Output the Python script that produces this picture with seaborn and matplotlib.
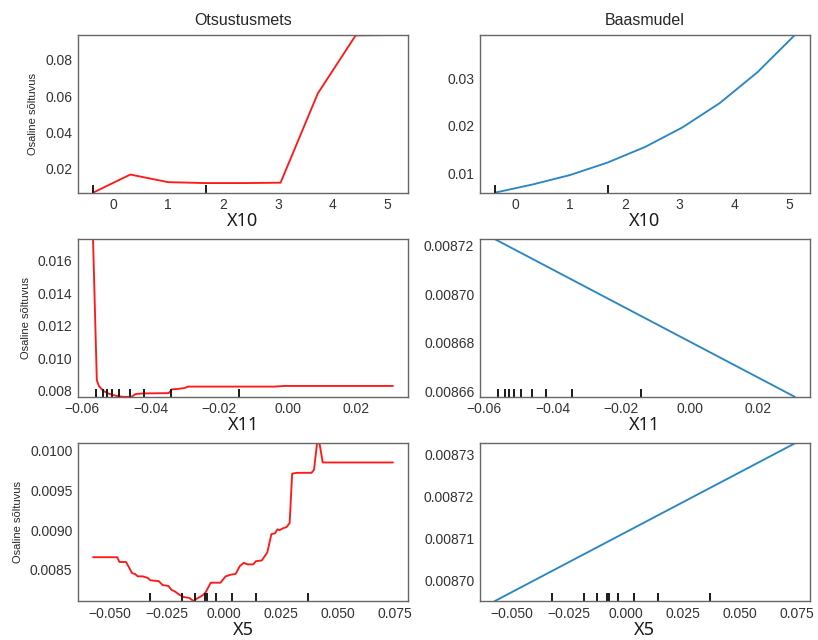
import matplotlib
matplotlib.use("Agg")
import matplotlib.pyplot as plt
import matplotlib.transforms as mtransforms
import pandas as pd
import seaborn as sns

# Partial dependence of the two models on features X10, X11 and X5
x10_grid = [-0.37, 0.31, 1.00, 1.68, 2.37, 3.05, 3.73, 4.42, 5.10]
x10_forest = [0.0067, 0.0167, 0.0125, 0.0120, 0.0120, 0.0122, 0.0615, 0.0935, 0.0937]
x10_base = [0.0060, 0.0077, 0.0097, 0.0123, 0.0156, 0.0197, 0.0248, 0.0313, 0.0391]
x10_deciles = [-0.37, 1.69]

x11_grid = [-0.0568, -0.0557, -0.0551, -0.0538, -0.0524, -0.0509, -0.0495, -0.0480,
            -0.0456, -0.0444, -0.0422, -0.0347, -0.0338, -0.0320, -0.0301, -0.0291,
            -0.0040, -0.0010, 0.0307]
x11_forest = [0.01733, 0.00866, 0.00830, 0.00800, 0.00784, 0.00774, 0.00767, 0.00763,
              0.00763, 0.00780, 0.00784, 0.00786, 0.00809, 0.00812, 0.00817, 0.00826,
              0.00826, 0.00830, 0.00830]
x11_base_grid = [-0.0568, 0.0307]
x11_base = [0.0087226, 0.0086577]
x11_deciles = [-0.0560, -0.0538, -0.0526, -0.0512, -0.0493, -0.0461, -0.0419, -0.0342, -0.0143]

x5_grid = [-0.0574, -0.0468, -0.0458, -0.0429, -0.0403, -0.0390, -0.0378, -0.0356, -0.0334,
           -0.0323, -0.0286, -0.0269, -0.0244, -0.0230, -0.0215, -0.0196, -0.0177, -0.0152,
           -0.0134, -0.0119, -0.0094, -0.0080, -0.0058, -0.0015, 0.0007, 0.0029, 0.0051,
           0.0070, 0.0087, 0.0103, 0.0128, 0.0140, 0.0166, 0.0190, 0.0208, 0.0224, 0.0234,
           0.0244, 0.0256, 0.0275, 0.0288, 0.0299, 0.0321, 0.0384, 0.0395, 0.0408, 0.0419,
           0.0433, 0.0547, 0.0741]
x5_forest = [0.00866, 0.00866, 0.00860, 0.00860, 0.00846, 0.00845, 0.00842, 0.00842, 0.00840,
             0.00837, 0.00836, 0.00831, 0.00830, 0.00825, 0.00823, 0.00819, 0.00816, 0.00815,
             0.00811, 0.00814, 0.00818, 0.00822, 0.00834, 0.00834, 0.00842, 0.00844, 0.00845,
             0.00855, 0.00859, 0.00857, 0.00857, 0.00861, 0.00862, 0.00872, 0.00895, 0.00896,
             0.00901, 0.00900, 0.00902, 0.00904, 0.00909, 0.00971, 0.00972, 0.00972, 0.00976,
             0.01009, 0.01009, 0.00985, 0.00985, 0.00985]
x5_base_grid = [-0.0575, 0.0741]
x5_base = [0.008695, 0.0087326]
x5_deciles = [-0.0326, -0.0184, -0.0126, -0.0081, -0.0075, -0.0036, 0.0035, 0.0140, 0.0368]

model_titles = ["Otsustusmets", "Baasmudel"]
feature_names = ["X10", "X11", "X5"]
y_label = "Osaline sõltuvus"

rows = [
    ((x10_grid, x10_forest), (x10_grid, x10_base), x10_deciles),
    ((x11_grid, x11_forest), (x11_base_grid, x11_base), x11_deciles),
    ((x5_grid, x5_forest), (x5_base_grid, x5_base), x5_deciles),
]

sns.set_style("white")
plt.rcParams["font.family"] = ["Liberation Sans", "DejaVu Sans"]
plt.rcParams["axes.edgecolor"] = "0.4"
plt.rcParams["axes.linewidth"] = 1.0

fig, axes = plt.subplots(3, 2, figsize=(8.18, 6.4), dpi=100)
fig.subplots_adjust(left=0.0954, right=0.990, top=0.9453, bottom=0.0609,
                    wspace=0.218, hspace=0.295)

line_colors = ["#ff1a1a", "#2b86c4"]

for r, (forest, base, deciles) in enumerate(rows):
    for c, (xs, ys) in enumerate([forest, base]):
        ax = axes[r, c]
        df = pd.DataFrame({"x": xs, "y": ys})
        sns.lineplot(data=df, x="x", y="y", ax=ax, color=line_colors[c],
                     linewidth=1.35, estimator=None, sort=False)
        ax.set_ylim(min(ys), max(ys))
        trans = mtransforms.blended_transform_factory(ax.transData, ax.transAxes)
        ax.vlines(deciles, 0, 0.05, transform=trans, color="0.1", linewidth=1.4)
        ax.tick_params(axis="both", labelsize=10, colors="0.2", length=0, pad=4)
        ax.set_xlabel(feature_names[r], fontsize=13, family=["Noto Sans", "DejaVu Sans"],
                      color="0.1", labelpad=0)
        if c == 0:
            ax.set_ylabel(y_label, fontsize=8, color="0.15", labelpad=5)
        else:
            ax.set_ylabel("")
        if r == 0:
            ax.set_title(model_titles[c], fontsize=11.5, color="0.15", pad=7)
        for s in ax.spines.values():
            s.set_visible(True)

fig.savefig("out.png", dpi=100)
